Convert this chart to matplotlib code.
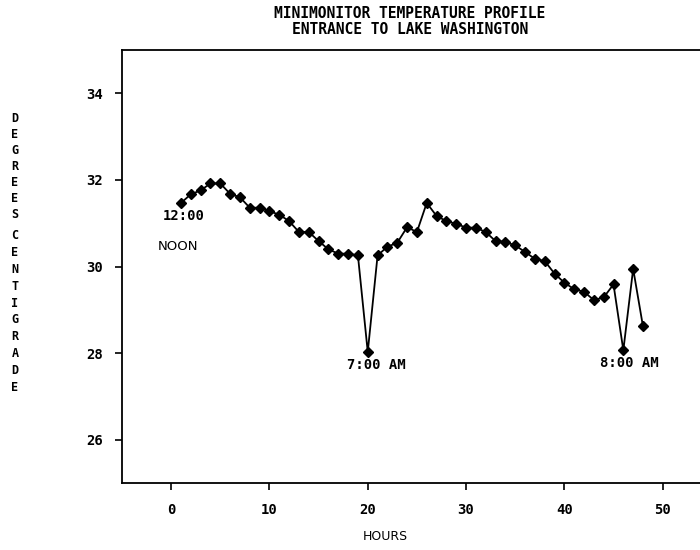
import matplotlib
matplotlib.use("Agg")
import matplotlib.pyplot as plt

# Hourly readings, starting at noon
hours = list(range(1, 49))
temps = [31.47, 31.67, 31.76, 31.92, 31.92, 31.68, 31.60, 31.36, 31.36, 31.28,
         31.20, 31.05, 30.80, 30.80, 30.59, 30.40, 30.30, 30.30, 30.26, 28.03,
         30.26, 30.46, 30.55, 30.91, 30.80, 31.47, 31.17, 31.05, 30.99, 30.90,
         30.90, 30.80, 30.59, 30.57, 30.49, 30.34, 30.18, 30.13, 29.84, 29.63,
         29.48, 29.42, 29.23, 29.29, 29.59, 28.07, 29.95, 28.62]

x_ticks = [0, 10, 20, 30, 40, 50]
y_ticks = [26, 28, 30, 32, 34]

notes = [("12:00", 1.3, 31.16), ("NOON", 0.7, 30.47),
         ("7:00 AM", 20.9, 27.73), ("8:00 AM", 46.6, 27.77)]

mono = "DejaVu Sans Mono"

fig = plt.figure(figsize=(7, 5.5), dpi=100)
ax = fig.add_axes([122 / 700, 66.7 / 550, 589.8 / 700, 433.3 / 550])

ax.plot(hours, temps, color="black", linewidth=1.3, marker="D",
        markersize=4.8, markerfacecolor="black", markeredgecolor="black")

ax.set_xlim(-5, 55)
ax.set_ylim(25, 35)
ax.set_xticks(x_ticks)
ax.set_yticks(y_ticks)
ax.tick_params(axis="both", direction="out", length=5, width=1.2, color="black")
ax.tick_params(axis="x", pad=9)
ax.tick_params(axis="y", pad=9)
for lbl in ax.get_xticklabels() + ax.get_yticklabels():
    lbl.set_fontfamily(mono)
    lbl.set_fontweight("bold")
    lbl.set_fontsize(10)
for sp in ax.spines.values():
    sp.set_linewidth(1.3)

for txt, xv, yv in notes:
    fam = "DejaVu Sans" if txt == "NOON" else mono
    ax.text(xv, yv, txt, ha="center", va="center",
            fontsize=10 if fam == mono else 9.5,
            fontfamily=fam, fontweight="bold" if fam == mono else "normal")

fig.text(410 / 700, 1 - 14 / 550, "MINIMONITOR TEMPERATURE PROFILE",
         ha="center", va="center", fontsize=10.5, fontfamily=mono, fontweight="bold")
fig.text(410 / 700, 1 - 29 / 550, "ENTRANCE TO LAKE WASHINGTON",
         ha="center", va="center", fontsize=10.5, fontfamily=mono, fontweight="bold")

fig.text(385 / 700, 1 - 537 / 550, "HOURS", ha="center", va="center",
         fontsize=9, fontfamily="DejaVu Sans")

fig.text(15 / 700, 1 - 166.5 / 550, "\n".join("DEGREES"), ha="center",
         va="center", fontsize=8.5, fontfamily=mono, fontweight="bold",
         linespacing=1.3)
fig.text(15 / 700, 1 - 311.5 / 550, "\n".join("CENTIGRADE"), ha="center",
         va="center", fontsize=8.5, fontfamily=mono, fontweight="bold",
         linespacing=1.38)

fig.savefig("out.png", dpi=100)
